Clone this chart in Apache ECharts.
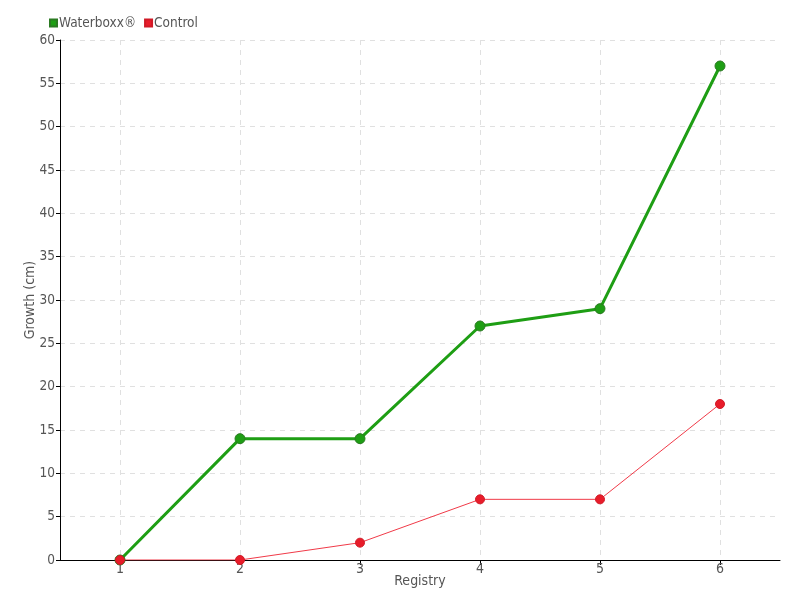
<!DOCTYPE html>
<html><head><meta charset="utf-8">
<script src="https://cdn.jsdelivr.net/npm/echarts@6/dist/echarts.min.js"></script>
<style>html,body{margin:0;padding:0;background:#fff}#c{width:800px;height:600px}</style>
</head><body><div id="c"></div>
<script>
const registry = [1, 2, 3, 4, 5, 6];
const waterboxx = [0, 14, 14, 27, 29, 57];
const control = [0, 0, 2, 7, 7, 18];
const FONT = '"DejaVu Sans Condensed", "Liberation Sans Narrow", sans-serif';
const chart = echarts.init(document.getElementById('c'));
chart.setOption({
  animation: false,
  textStyle: { fontFamily: FONT },
  legend: {
    left: 44, top: 11, itemWidth: 7, itemHeight: 7, itemGap: 8,
    icon: 'rect',
    textStyle: { fontFamily: FONT, fontSize: 13.5, color: '#555', padding: [0, 0, 0, -3] },
    data: ['Waterboxx®', 'Control']
  },
  grid: { left: 60, right: 20, top: 40, bottom: 40, containLabel: false, outerBoundsMode: 'none' },
  xAxis: {
    type: 'value', min: 0.5, max: 6.5,
    name: 'Registry', nameLocation: 'middle', nameGap: 14, nameMoveOverlap: false,
    nameTextStyle: { fontFamily: FONT, fontSize: 14, color: '#555' },
    axisLine: { lineStyle: { color: '#000', width: 1 } },
    axisTick: { show: true, length: 5, lineStyle: { color: '#000' }, customValues: registry },
    axisLabel: { customValues: registry, fontFamily: FONT, fontSize: 14, color: '#555', margin: 2 },
    splitLine: { show: true, lineStyle: { color: '#e0e0e0', type: [5, 5] } }
  },
  yAxis: {
    type: 'value', min: 0, max: 60, interval: 5,
    name: 'Growth (cm)', nameLocation: 'middle', nameGap: 23, nameMoveOverlap: false,
    nameTextStyle: { fontFamily: FONT, fontSize: 14, color: '#555' },
    axisLine: { show: true, lineStyle: { color: '#000', width: 1 } },
    axisTick: { show: true, length: 4, lineStyle: { color: '#000' } },
    axisLabel: { fontFamily: FONT, fontSize: 13.5, color: '#555', margin: 5 },
    splitLine: { show: true, lineStyle: { color: '#e0e0e0', type: [5, 5] } }
  },
  series: [
    {
      name: 'Waterboxx®', type: 'line',
      data: registry.map((r, i) => [r, waterboxx[i]]),
      symbol: 'circle', symbolSize: 10,
      lineStyle: { color: '#1e9e14', width: 3 },
      itemStyle: { color: '#1e9e14', borderColor: '#2b7a22', borderWidth: 1 }
    },
    {
      name: 'Control', type: 'line',
      data: registry.map((r, i) => [r, control[i]]),
      symbol: 'circle', symbolSize: 9,
      lineStyle: { color: '#f03a48', width: 1 },
      itemStyle: { color: '#e81c2a', borderColor: '#d01a26', borderWidth: 1 }
    }
  ]
});
</script></body></html>
